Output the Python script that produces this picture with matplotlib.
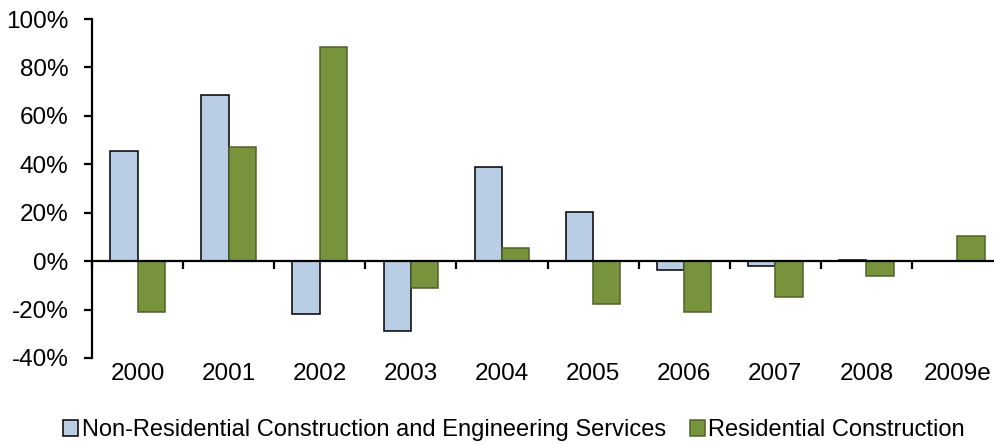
import matplotlib
matplotlib.use("Agg")
import matplotlib.pyplot as plt
import numpy as np
from matplotlib.ticker import FuncFormatter

categories = ["2000", "2001", "2002", "2003", "2004", "2005", "2006", "2007", "2008", "2009e"]
non_residential = [45.5, 68.5, -22.0, -29.0, 39.0, 20.2, -3.5, -2.0, 0.3, 0.0]
residential = [-21.0, 47.0, 88.3, -11.0, 5.4, -17.8, -21.0, -15.0, -6.0, 10.3]
series_names = ["Non-Residential Construction and Engineering Services", "Residential Construction"]

plt.rcParams['font.family'] = ['Liberation Sans', 'DejaVu Sans']

fig = plt.figure(figsize=(9.95, 4.45), dpi=100)
ax = fig.add_axes([92/995, 1 - 358/445, (1003-92)/995, (358-19)/445])

x = np.arange(len(categories))
w = 0.3
ax.bar(x - w/2, non_residential, w, color="#B9CDE5", edgecolor="black", linewidth=1.1,
       label=series_names[0])
ax.bar(x + w/2, residential, w, color="#77933C", edgecolor="#4F6228", linewidth=1.1,
       label=series_names[1])

ax.set_xlim(-0.5, len(categories) - 0.5)
ax.set_ylim(-40, 100)
ax.set_yticks(np.arange(-40, 101, 20))
ax.yaxis.set_major_formatter(FuncFormatter(lambda v, p: f"{int(v)}%"))

for s in ["top", "right"]:
    ax.spines[s].set_visible(False)
ax.spines["bottom"].set_position(("data", 0))
ax.spines["bottom"].set_linewidth(1.6)
ax.spines["left"].set_linewidth(1.6)

ax.set_xticks(np.arange(len(categories) + 1) - 0.5, minor=False)
ax.set_xticklabels([])
ax.tick_params(axis="x", which="major", direction="out", length=6, width=1.6)
ax.tick_params(axis="y", direction="out", length=6, width=1.6, labelsize=17.5, pad=11)

for xi, lab in zip(x, categories):
    ax.text(xi, -42.0, lab, ha="center", va="top", fontsize=17.5, transform=ax.transData)

ax.legend(loc="center", bbox_to_anchor=(514/995, 1 - 430/445), bbox_transform=fig.transFigure,
          ncol=2, frameon=False,
          fontsize=17, handlelength=0.65, handleheight=0.65, handletextpad=0.15, columnspacing=1.0,
          borderaxespad=0)

fig.savefig("out.png", dpi=100)
